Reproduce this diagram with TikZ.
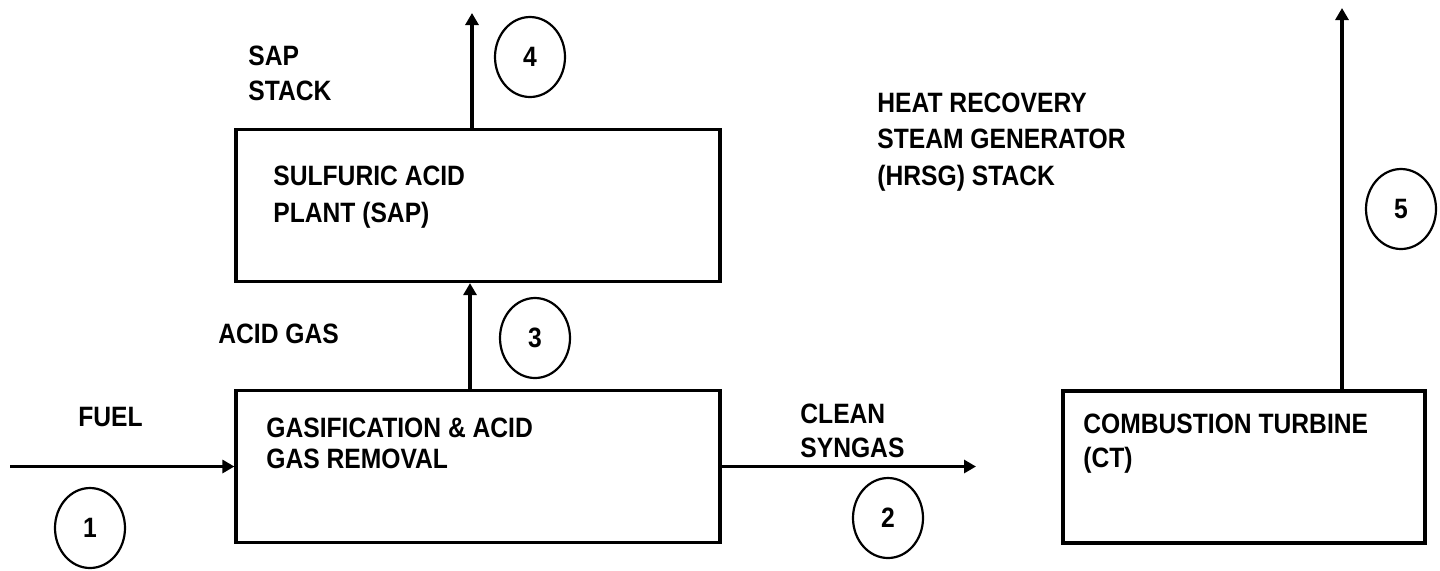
\documentclass[tikz,border=0pt]{standalone}
\usepackage{fontspec}
\setmainfont{Liberation Sans}[FakeStretch=0.88]
\usetikzlibrary{positioning, arrows.meta, shapes.geometric}

\begin{document}
\begin{tikzpicture}[
  x=0.5pt, y=-0.5pt,
  font=\bfseries\fontsize{14}{18}\selectfont,
  >={Triangle[length=6pt, width=6.5pt]},
  unit/.style={draw, line width=1.6pt, inner sep=0pt, minimum height=76pt},
  lbl/.style={anchor=base west, inner sep=0pt, align=left,
              font=\bfseries\fontsize{14}{#1}\selectfont},
  lbl/.default=18,
  strm/.style={ellipse, draw, line width=1.1pt, inner sep=0pt,
               minimum width=35pt, minimum height=40pt},
  arr/.style={->, line width=1.6pt},
]
\useasboundingbox (0,0) rectangle (1440,570);
% ---- process units ----
\node[unit, minimum width=242pt] (gar) at (478,466.5) {};
\node[unit, minimum width=242pt] (sap) at (478,205.5) {};
\node[unit, minimum width=181pt] (ct) at (1244,467) {};
% ---- unit labels (anchored at last line) ----
\node[lbl=15.5] (gartxt) at (266,468) {GASIFICATION \& ACID\\GAS REMOVAL};
\node[lbl=18.5] (saptxt) at (273,222) {SULFURIC ACID\\PLANT (SAP)};
\node[lbl=17] (cttxt) at (1083,467) {COMBUSTION TURBINE\\(CT)};
% ---- free ends ----
\coordinate (fuelin) at (10,466.5);
\coordinate (syngasout) at (976,466.5);
\coordinate (sapstack) at (472,13);
\coordinate (hrsgstack) at (1342,8);
% ---- arrows ----
\draw[arr] (fuelin) -- (gar.west);
\draw[arr] (gar.east) -- (syngasout);
\draw[arr] ([xshift=-4pt]gar.north) -- ([xshift=-4pt]sap.south);
\draw[arr] (sapstack |- sap.north) -- (sapstack);
\draw[arr] (hrsgstack |- ct.north) -- (hrsgstack);
% ---- stream labels ----
\node[lbl] (fueltxt) at (78,426) {FUEL};
\node[lbl] (acidtxt) at (218,343) {ACID GAS};
\node[lbl=17] (syngastxt) at (800,457) {CLEAN\\SYNGAS};
\node[lbl=17.5] (stacktxt) at (248,100) {SAP\\STACK};
\node[lbl=18.25] (hrsgtxt) at (877,185) {HEAT RECOVERY\\STEAM GENERATOR\\(HRSG) STACK};
% ---- stream numbers ----
\node[strm] (s1) at (90,528) {1};
\node[strm] (s2) at (888,518) {2};
\node[strm] (s3) at (535,338) {3};
\node[strm] (s4) at (530,57) {4};
\node[strm] (s5) at (1401,209) {5};
\end{tikzpicture}
\end{document}
